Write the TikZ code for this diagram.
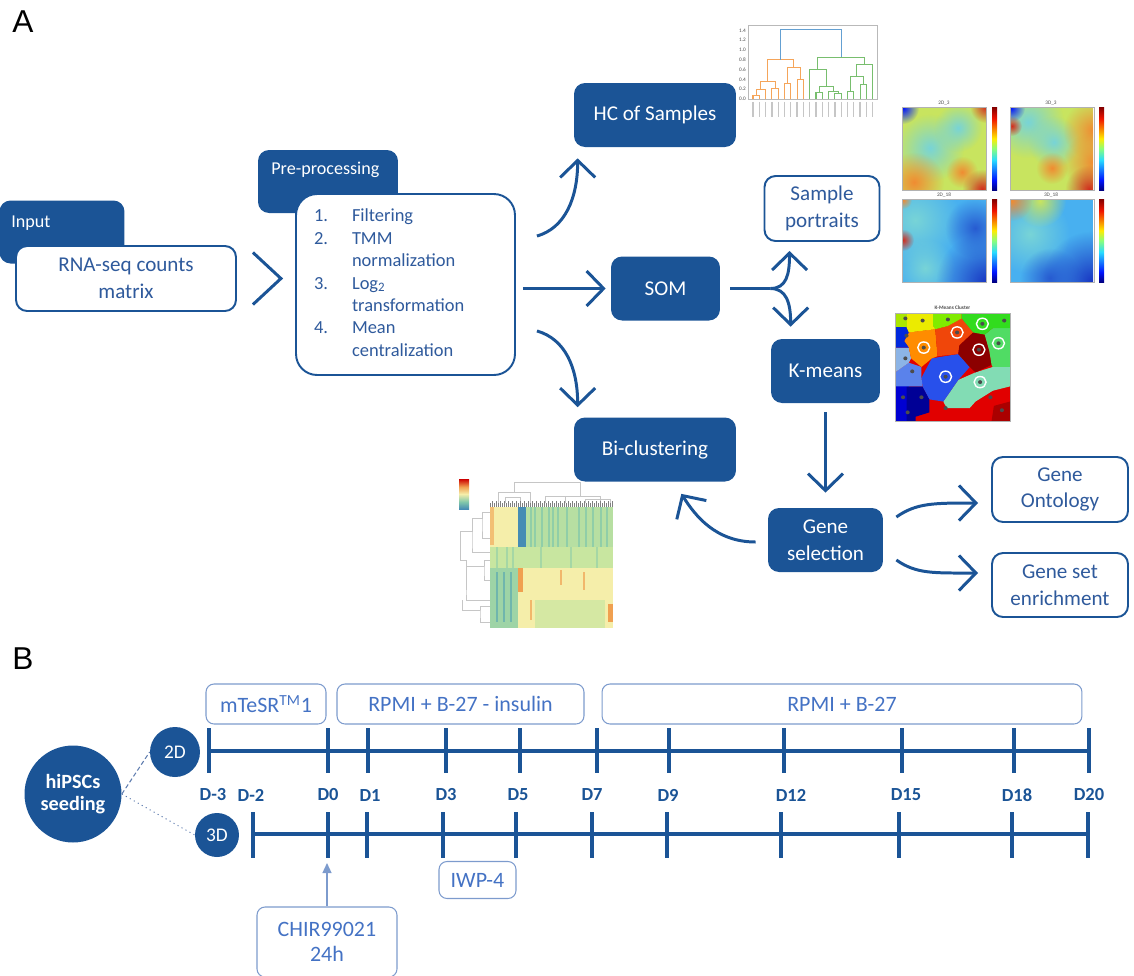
\documentclass[tikz,border=0pt]{standalone}
\usepackage{fontspec}
\setmainfont{Carlito}
\newfontfamily\letterfont{Liberation Sans}
\usetikzlibrary{positioning,arrows.meta,fadings}

\definecolor{mainblue}{RGB}{27,84,150}
\definecolor{txtblue}{RGB}{47,90,156}
\definecolor{medblue}{RGB}{68,114,196}
\definecolor{rimblue}{RGB}{125,155,205}
\definecolor{linkblue}{RGB}{95,125,175}
% dendrogram colours
\definecolor{hcorange}{RGB}{245,165,90}
\definecolor{hcgreen}{RGB}{120,190,110}
\definecolor{hcblue}{RGB}{100,160,210}
% som colours
\definecolor{somyg}{RGB}{200,228,95}
\definecolor{somcy}{RGB}{120,212,215}
\definecolor{somor}{RGB}{240,140,50}
\definecolor{somred}{RGB}{210,45,30}
\definecolor{sombl}{RGB}{72,176,240}
\definecolor{somdb}{RGB}{25,55,195}
\definecolor{jnavy}{RGB}{0,0,130}
\definecolor{jblue}{RGB}{0,20,255}
\definecolor{jcyan}{RGB}{40,220,255}
\definecolor{jgreen}{RGB}{140,255,120}
\definecolor{jyellow}{RGB}{255,235,0}
\definecolor{jred}{RGB}{240,20,0}
\definecolor{jdark}{RGB}{130,0,0}
% k-means colours
\definecolor{kmyg}{RGB}{170,230,0}
\definecolor{kmyel}{RGB}{235,235,0}
\definecolor{kmlime}{RGB}{128,235,0}
\definecolor{kmgrn}{RGB}{50,220,30}
\definecolor{kmlg}{RGB}{80,220,100}
\definecolor{kmblue}{RGB}{0,40,220}
\definecolor{kmorg}{RGB}{255,140,0}
\definecolor{kmro}{RGB}{240,70,10}
\definecolor{kmmar}{RGB}{140,0,0}
\definecolor{kmlb}{RGB}{140,180,230}
\definecolor{kmcorn}{RGB}{90,130,235}
\definecolor{kmroy}{RGB}{40,80,235}
\definecolor{kmaq}{RGB}{130,220,180}
\definecolor{kmnavy}{RGB}{0,0,150}
\definecolor{kmred}{RGB}{225,0,0}
\definecolor{kmdred}{RGB}{170,0,0}
\definecolor{kmbl}{RGB}{0,0,210}
% heatmap colours
\definecolor{hmyel}{RGB}{245,238,170}
\definecolor{hmgrn}{RGB}{200,230,160}
\definecolor{hmteal}{RGB}{130,200,170}
\definecolor{hmblue}{RGB}{70,140,180}
\definecolor{hmor}{RGB}{240,160,80}

\pgfdeclareverticalshading{jetbar}{100bp}{color(0bp)=(jnavy); color(25bp)=(jnavy); color(31bp)=(jblue); color(43bp)=(jcyan); color(50bp)=(jgreen); color(56bp)=(jyellow); color(68bp)=(jred); color(75bp)=(jdark); color(100bp)=(jdark)}
\pgfdeclareverticalshading{spectralbar}{100bp}{color(0bp)=(hmblue); color(25bp)=(hmblue); color(37bp)=(hmteal); color(50bp)=(hmyel); color(62bp)=(hmor); color(75bp)=(red!80!black); color(100bp)=(red!80!black)}
\tikzfading[name=softspot, inner color=transparent!0, outer color=transparent!100]

\tikzset{
  flowarrow/.style={-{Straight Barb[length=3.4mm,width=7mm]}, line width=1.7pt, draw=mainblue},
  flowline/.style={line width=1.7pt, draw=mainblue},
  darkbox/.style={fill=mainblue, rounded corners=2.2mm, text=white, minimum width=3.24cm, minimum height=1.28cm, align=center, font=\fontsize{12}{15.3}\selectfont},
  tabbox/.style={fill=mainblue, rounded corners=2.2mm, minimum height=1.26cm},
  tabtext/.style={text=white, font=\fontsize{10.3}{12}\selectfont, anchor=west, inner sep=0pt},
  whitebox/.style={draw=mainblue, line width=1.1pt, fill=white, rounded corners=2.2mm, text=txtblue, minimum height=1.3cm, align=center, font=\fontsize{12}{15.3}\selectfont},
  mediabox/.style={draw=rimblue, line width=0.6pt, rounded corners=1.6mm, text=medblue, minimum height=0.8cm, font=\fontsize{12.5}{14.5}\selectfont},
  daylabel/.style={text=mainblue, font=\bfseries\fontsize{10.5}{12}\selectfont},
  timeline/.style={line width=2.2pt, draw=mainblue},
  circnode/.style={circle, fill=mainblue, text=white, align=center, inner sep=0pt},
  linkline/.style={draw=linkblue, line width=0.6pt},
  chirarrow/.style={-{Triangle[length=2mm,width=1.8mm]}, draw=rimblue, fill=rimblue, line width=0.7pt},
  panelletter/.style={font=\letterfont\fontsize{18}{18}\selectfont, inner sep=0pt},
  tinytext/.style={font=\fontsize{3}{3.5}\selectfont, text=black!70, inner sep=0.5pt},
  hmgray/.style={draw=gray!45, line width=0.3pt},
  spot/.style={fill=#1, path fading=softspot}
}

\begin{document}
\begin{tikzpicture}[x=0.02cm, y=-0.02cm]
\useasboundingbox (0,0) rectangle (1134,975);

\node[panelletter] (pa) at (23,22) {A};
\node[panelletter] (pb) at (23,659) {B};

% ---------- panel A ----------
\node[tabbox, minimum width=2.5cm] (intab) at (62,232) {};
\node[tabtext] (intxt) at (11,223) {Input};
\node[whitebox, minimum width=4.4cm] (rna) at (126,278.5) {RNA-seq counts\\matrix};

\node[tabbox, minimum width=2.8cm] (pretab) at (328,181.5) {};
\node[tabtext] (pretxt) at (271,170) {Pre-processing};
\node[whitebox, rounded corners=4.2mm, minimum width=4.38cm, minimum height=3.62cm,
      text width=3.66cm, inner xsep=0.36cm, align=left,
      font=\fontsize{10.5}{12.8}\selectfont] (pre) at (405.5,284.5) {%
  \begin{tabular}{@{}p{0.76cm}@{}l@{}}
  1. & Filtering\\
  2. & TMM\\
     & normalization\\
  3. & Log\textsubscript{2}\\
     & transformation\\
  4. & Mean\\
     & centralization
  \end{tabular}};

\draw[flowline] ([shift={(16,-26)}]rna.east) -- ([shift={(44,0)}]rna.east) -- ([shift={(16,26)}]rna.east);

\node[darkbox] (hc) at (655,115) {HC of Samples};
\node[darkbox, minimum width=2.18cm] (som) at (665.5,288.5) {SOM};
\node[darkbox] (bic) at (655,449.5) {Bi-clustering};
\node[darkbox, minimum width=2.18cm] (km) at (825.5,371) {K-means};
\node[darkbox, minimum width=2.3cm] (gs) at (825.5,540) {Gene\\selection};
\node[whitebox, minimum width=2.3cm] (por) at (822,208.5) {Sample\\portraits};
\node[whitebox, minimum width=2.72cm] (go) at (1060,489.5) {Gene\\Ontology};
\node[whitebox, minimum width=2.72cm, minimum height=1.28cm] (gse) at (1060,585) {Gene set\\enrichment};

% arrows
\coordinate (presom) at (pre.east |- som.west);
\draw[flowarrow] ([shift={(21,43)}]pre.north east) .. controls +(28,-8) and +(0,40) .. ([shift={(4,11)}]hc.south west);
\draw[flowarrow] ([shift={(7,0)}]presom) -- ([shift={(-5,0)}]som.west);
\draw[flowarrow] ([shift={(21,-45)}]pre.south east) .. controls +(28,8) and +(0,-40) .. ([shift={(4,-10)}]bic.north west);
\draw[flowline] ([shift={(10,0)}]som.east) -- ([shift={(50,0)}]som.east) coordinate (fork);
\draw[flowarrow] (fork) .. controls +(16,0) and +(0,24) .. ([shift={(26,9)}]por.south west);
\draw[flowarrow] (fork) .. controls +(16,0) and +(0,-24) .. ([shift={(20,-12)}]km.north west);
\draw[flowarrow] ([shift={(0,9)}]km.south) -- ([shift={(0,-15)}]gs.north);
\draw[flowarrow] ([shift={(-12,2)}]gs.west) .. controls +(-40,0) and +(14,22) .. ([shift={(-55,12)}]bic.south east);
\draw[flowarrow] ([shift={(13,-23)}]gs.east) .. controls +(20,-14) and +(-45,0) .. ([shift={(-13,13.5)}]go.west);
\draw[flowarrow] ([shift={(13,20)}]gs.east) .. controls +(20,14) and +(-45,0) .. ([shift={(-13,-12)}]gse.west);

% dendrogram of samples
\draw[gray!55, line width=0.4pt] (748,25) rectangle (877,99);
\foreach \v in {0.0,0.2,0.4,0.6,0.8,1.0,1.2,1.4}
  \node[tinytext, anchor=east] at (747,{99-49*\v}) {\v};
\begin{scope}[shift={(753,99)}, x=0.126cm, y=0.98cm, line width=0.6pt]
  \foreach \a/\ha/\b/\hb/\h in {0/0/1/0/0.08, 0.5/0.08/2/0/0.2, 3/0/4/0/0.22, 1.25/0.2/3.5/0.22/0.35,
      5/0/6/0/0.32, 7/0/8/0/0.4, 5.5/0.32/7.5/0.4/0.65, 2.375/0.35/6.5/0.65/0.8}
    \draw[hcorange] (\a,\ha) |- (\b,\h) -- (\b,\hb);
  \foreach \a/\ha/\b/\hb/\h in {10/0/11/0/0.14, 13/0/14/0/0.12, 12/0/13.5/0.12/0.15, 10.5/0.14/12.75/0.15/0.26,
      9/0/11.625/0.26/0.6, 15/0/16/0/0.16, 17/0/18/0/0.3, 15.5/0.16/17.5/0.3/0.45,
      16.5/0.45/19/0/0.7, 10.3125/0.6/17.75/0.7/0.85}
    \draw[hcgreen] (\a,\ha) |- (\b,\h) -- (\b,\hb);
  \draw[hcblue] (4.4375,0.8) |- (14.03,1.42) -- (14.03,0.85);
  \foreach \i in {0,...,19}
    \draw[gray!45, line width=0.7pt] (\i,-0.06) -- (\i,-0.36);
\end{scope}

% sample portraits
\begin{scope}
  \clip (902,107) rectangle (986,190);
  \fill[somyg] (902,107) rectangle (986,190);
  \fill[spot=somcy] (930,148) circle (34);
  \fill[spot=somcy] (958,128) circle (24);
  \fill[spot=jblue] (903,108) circle (16);
  \fill[spot=somred] (986,107) circle (16);
  \fill[spot=somor] (914,182) circle (30);
  \fill[spot=somor] (962,172) circle (16);
  \fill[spot=somred] (982,189) circle (20);
\end{scope}
\begin{scope}
  \clip (1010,107) rectangle (1093,190);
  \fill[somyg] (1010,107) rectangle (1093,190);
  \fill[spot=somcy] (1028,122) circle (36);
  \fill[spot=somcy] (1054,142) circle (26);
  \fill[spot=jblue] (1011,108) circle (14);
  \fill[spot=somred] (1012,126) circle (10);
  \fill[spot=somor] (1093,130) circle (30);
  \fill[spot=somor] (1093,162) circle (30);
  \fill[spot=somor] (1052,168) circle (16);
  \fill[spot=somred] (1089,189) circle (24);
\end{scope}
\begin{scope}
  \clip (902,199) rectangle (986,282);
  \fill[sombl] (902,199) rectangle (986,282);
  \fill[spot=somcy] (915,220) circle (46);
  \fill[spot=somcy] (925,268) circle (30);
  \fill[spot=somdb] (986,282) circle (50);
  \fill[spot=somdb!70!sombl] (975,228) circle (30);
  \fill[spot=somred] (903,240) circle (11);
  \fill[spot=somor] (903,200) circle (9);
\end{scope}
\begin{scope}
  \clip (1010,199) rectangle (1093,282);
  \fill[sombl] (1010,199) rectangle (1093,282);
  \fill[spot=somcy] (1030,234) circle (40);
  \fill[spot=somyg] (1040,201) circle (26);
  \fill[spot=somor] (1012,201) circle (20);
  \fill[spot=somdb] (1092,281) circle (50);
  \fill[spot=somdb!70!sombl] (1050,278) circle (30);
\end{scope}
\foreach \x/\y in {902/107, 1010/107, 902/199, 1010/199}
  \draw[gray!60, line width=0.3pt] (\x,\y) rectangle ++(84,83);
\foreach \x/\y in {992/107, 1099/107, 992/199, 1099/199}
  \shade[shading=jetbar] (\x,\y) rectangle ++(5,83);
\node[tinytext] (t1) at (944,103) {2D\_3};
\node[tinytext] (t2) at (1051,103) {3D\_3};
\node[tinytext] (t3) at (944,195) {2D\_18};
\node[tinytext] (t4) at (1051,195) {3D\_18};

% k-means cluster map
\begin{scope}[shift={(895,313)}, x=2.3cm, y=-2.16cm]
  \fill[kmred] (0,0) rectangle (1,1);
  \fill[kmdred] (0.84,1) -- (0.86,0.86) -- (1,0.82) -- (1,1) -- cycle;
  \fill[kmbl] (0,0.68) -- (0.12,0.68) -- (0.12,1) -- (0,1) -- cycle;
  \fill[kmnavy] (0.1,0.68) -- (0.24,0.68) -- (0.3,0.8) -- (0.3,0.92) -- (0.18,0.96) -- (0.18,1) -- (0.1,1) -- cycle;
  \fill[kmaq] (0.42,0.82) -- (0.55,0.62) -- (0.7,0.55) -- (0.85,0.5) -- (1,0.5) -- (1,0.68) -- (0.85,0.72) -- (0.7,0.82) -- (0.65,0.88) -- (0.45,0.88) -- cycle;
  \fill[kmroy] (0.23,0.6) -- (0.32,0.42) -- (0.55,0.38) -- (0.65,0.5) -- (0.55,0.62) -- (0.42,0.82) -- (0.3,0.8) -- (0.24,0.68) -- cycle;
  \fill[kmcorn] (0,0.55) -- (0.12,0.46) -- (0.23,0.5) -- (0.23,0.6) -- (0.24,0.68) -- (0,0.68) -- cycle;
  \fill[kmlb] (0,0.32) -- (0.12,0.32) -- (0.14,0.42) -- (0.12,0.46) -- (0,0.55) -- cycle;
  \fill[kmorg] (0.12,0.18) -- (0.35,0.15) -- (0.37,0.4) -- (0.32,0.42) -- (0.23,0.5) -- (0.14,0.42) -- (0.12,0.32) -- (0.08,0.26) -- cycle;
  \fill[kmblue] (0,0.13) -- (0.1,0.13) -- (0.12,0.18) -- (0.08,0.26) -- (0.12,0.32) -- (0,0.32) -- cycle;
  \fill[kmro] (0.35,0.15) -- (0.46,0.12) -- (0.58,0.05) -- (0.68,0.18) -- (0.62,0.24) -- (0.56,0.3) -- (0.55,0.38) -- (0.37,0.4) -- cycle;
  \fill[kmmar] (0.56,0.3) -- (0.62,0.24) -- (0.68,0.18) -- (0.78,0.2) -- (0.82,0.35) -- (0.84,0.48) -- (0.7,0.55) -- (0.65,0.5) -- (0.55,0.38) -- cycle;
  \fill[kmlg] (0.78,0.2) -- (0.85,0.14) -- (1,0.14) -- (1,0.5) -- (0.85,0.5) -- (0.84,0.48) -- (0.82,0.35) -- cycle;
  \fill[kmgrn] (0.58,0) -- (1,0) -- (1,0.14) -- (0.85,0.14) -- (0.78,0.2) -- (0.68,0.18) -- (0.58,0.05) -- cycle;
  \fill[kmlime] (0.33,0) -- (0.58,0) -- (0.58,0.05) -- (0.46,0.12) -- (0.35,0.15) -- (0.33,0.12) -- cycle;
  \fill[kmyel] (0.1,0) -- (0.33,0) -- (0.33,0.12) -- (0.35,0.15) -- (0.12,0.18) -- (0.1,0.13) -- cycle;
  \fill[kmyg] (0,0) rectangle (0.1,0.13);
  \foreach \u/\v in {0.09/0.05, 0.24/0.07, 0.46/0.06, 0.76/0.1, 0.95/0.07, 0.1/0.21, 0.25/0.32,
      0.54/0.18, 0.73/0.34, 0.9/0.28, 0.09/0.42, 0.15/0.54, 0.44/0.59, 0.74/0.64,
      0.07/0.78, 0.23/0.78, 0.11/0.92, 0.44/0.88, 0.83/0.78, 0.93/0.9}
    \fill[black!70] (\u,\v) circle (0.018);
  \foreach \u/\v in {0.76/0.1, 0.25/0.32, 0.54/0.18, 0.73/0.34, 0.9/0.28, 0.44/0.59, 0.74/0.64}
    \draw[white, line width=0.8pt] (\u,\v) circle (0.052);
  \draw[gray!60, line width=0.3pt] (0,0) rectangle (1,1);
  \node[tinytext, font=\bfseries\fontsize{3}{3.5}\selectfont] (kmtitle) at (0.5,-0.05) {K-Means Cluster};
\end{scope}

% bi-clustering heatmap
\shade[shading=spectralbar] (459,479) rectangle (469,509);
\draw[hmgray] (498,503) |- (530,492) -- (530,503);
\draw[hmgray] (514,492) |- (580,482) -- (580,496);
\draw[hmgray] (545,503) |- (600,496) -- (600,503);
\draw[hmgray] (565,503) -- (565,496);
\draw[hmgray] (505,503) |- (520,497) -- (520,503);
\draw[hmgray] (585,503) |- (610,499) -- (610,503);
\foreach \x in {490,492,...,612}
  \draw[black!50, line width=0.35pt] (\x,{501+mod(\x,4)}) -- (\x,507);
\draw[hmgray] (490,512) -| (482,525) |- (490,538);
\draw[hmgray] (482,518) -| (472,545) |- (490,552);
\draw[hmgray] (490,560) -| (484,572) |- (490,580);
\draw[hmgray] (484,566) -| (466,590) |- (490,600);
\draw[hmgray] (490,606) -| (480,614) |- (490,622);
\draw[hmgray] (480,610) -| (462,600);
\draw[hmgray] (472,531) -| (460,560) -| (466,590);
\fill[hmyel] (490,507) rectangle (613,628);
\fill[hmblue] (518,507) rectangle (526,547);
\fill[hmgrn!75!hmteal] (526,507) rectangle (613,547);
\fill[hmor!60!hmyel] (490,507) rectangle (494,545);
\fill[hmgrn] (490,547) rectangle (613,568);
\fill[hmteal!60!hmgrn] (490,568) rectangle (518,628);
\foreach \x in {530,534,541,548,552,557,566,578,585,592,600,606}
  \fill[hmteal!80!hmgrn] (\x,507) rectangle ++(1.5,40);
\foreach \x in {496,506,512,540,570,596}
  \fill[hmteal!50!hmgrn] (\x,547) rectangle ++(1.5,21);
\foreach \x in {496,503,510}
  \fill[hmteal!70!hmblue] (\x,572) rectangle ++(1.5,50);
\fill[hmor] (518,568) rectangle (523,592);
\fill[hmor!70!hmyel] (560,570) rectangle (562,585);
\fill[hmor!70!hmyel] (583,572) rectangle (585,590);
\fill[hmor!70!hmyel] (530,600) rectangle (532,620);
\fill[hmor] (608,604) rectangle (613,622);
\fill[hmgrn!70!hmyel] (535,600) rectangle (605,628);

% ---------- panel B ----------
\node[circnode, minimum size=1.94cm, font=\bfseries\fontsize{11.5}{12.5}\selectfont] (seed) at (73,794) {hiPSCs\\seeding};
\node[circnode, minimum size=1.0cm, font=\fontsize{11}{12}\selectfont] (c2d) at (175,752) {2D};
\node[circnode, minimum size=0.88cm, font=\fontsize{11}{12}\selectfont] (c3d) at (217,835) {3D};
\draw[linkline, dash pattern=on 2.5pt off 1.5pt] (seed.east) -- (c2d.west);
\draw[linkline, dotted] (seed.east) -- (c3d.west);

\node[mediabox, minimum width=2.4cm] (mtesr) at (266,704) {mTeSR\textsuperscript{TM}1};
\node[mediabox, minimum width=4.94cm] (rpmiins) at (460.5,704) {RPMI + B-27 - insulin};
\node[mediabox, minimum width=9.6cm] (rpmi) at (842,704) {RPMI + B-27};

\coordinate (l2s) at (209,751);
\coordinate (l2e) at (1089,751);
\draw[timeline] (l2s) -- (l2e);
\foreach \x in {209,328,368,446,520,597,669,784,902,1014,1089}
  \draw[timeline] (\x,728) -- (\x,773);

\coordinate (l3s) at (253,834);
\coordinate (l3e) at (1088,834);
\draw[timeline] (l3s) -- (l3e);
\foreach \x in {253,328,367,443,516,592,667,781,899,1012,1088}
  \draw[timeline] (\x,812) -- (\x,858);

\foreach \x/\d [count=\i] in {213/D-3, 251/D-2, 328/D0, 370/D1, 446/D3, 518/D5, 592/D7,
    668/D9, 791/D12, 906/D15, 1017/D18, 1089/D20}
  \node[daylabel] (day\i) at (\x,795) {\d};

\node[mediabox, minimum width=1.54cm, minimum height=0.74cm] (iwp) at (477.5,880) {IWP-4};
\node[mediabox, minimum width=2.8cm, minimum height=1.4cm, align=center,
      font=\fontsize{12.5}{14.5}\selectfont] (chir) at (327,942) {CHIR99021\\24h};
\coordinate (chirtip) at (327,863);
\draw[chirarrow] (chir.north) -- (chirtip);
\end{tikzpicture}
\end{document}
